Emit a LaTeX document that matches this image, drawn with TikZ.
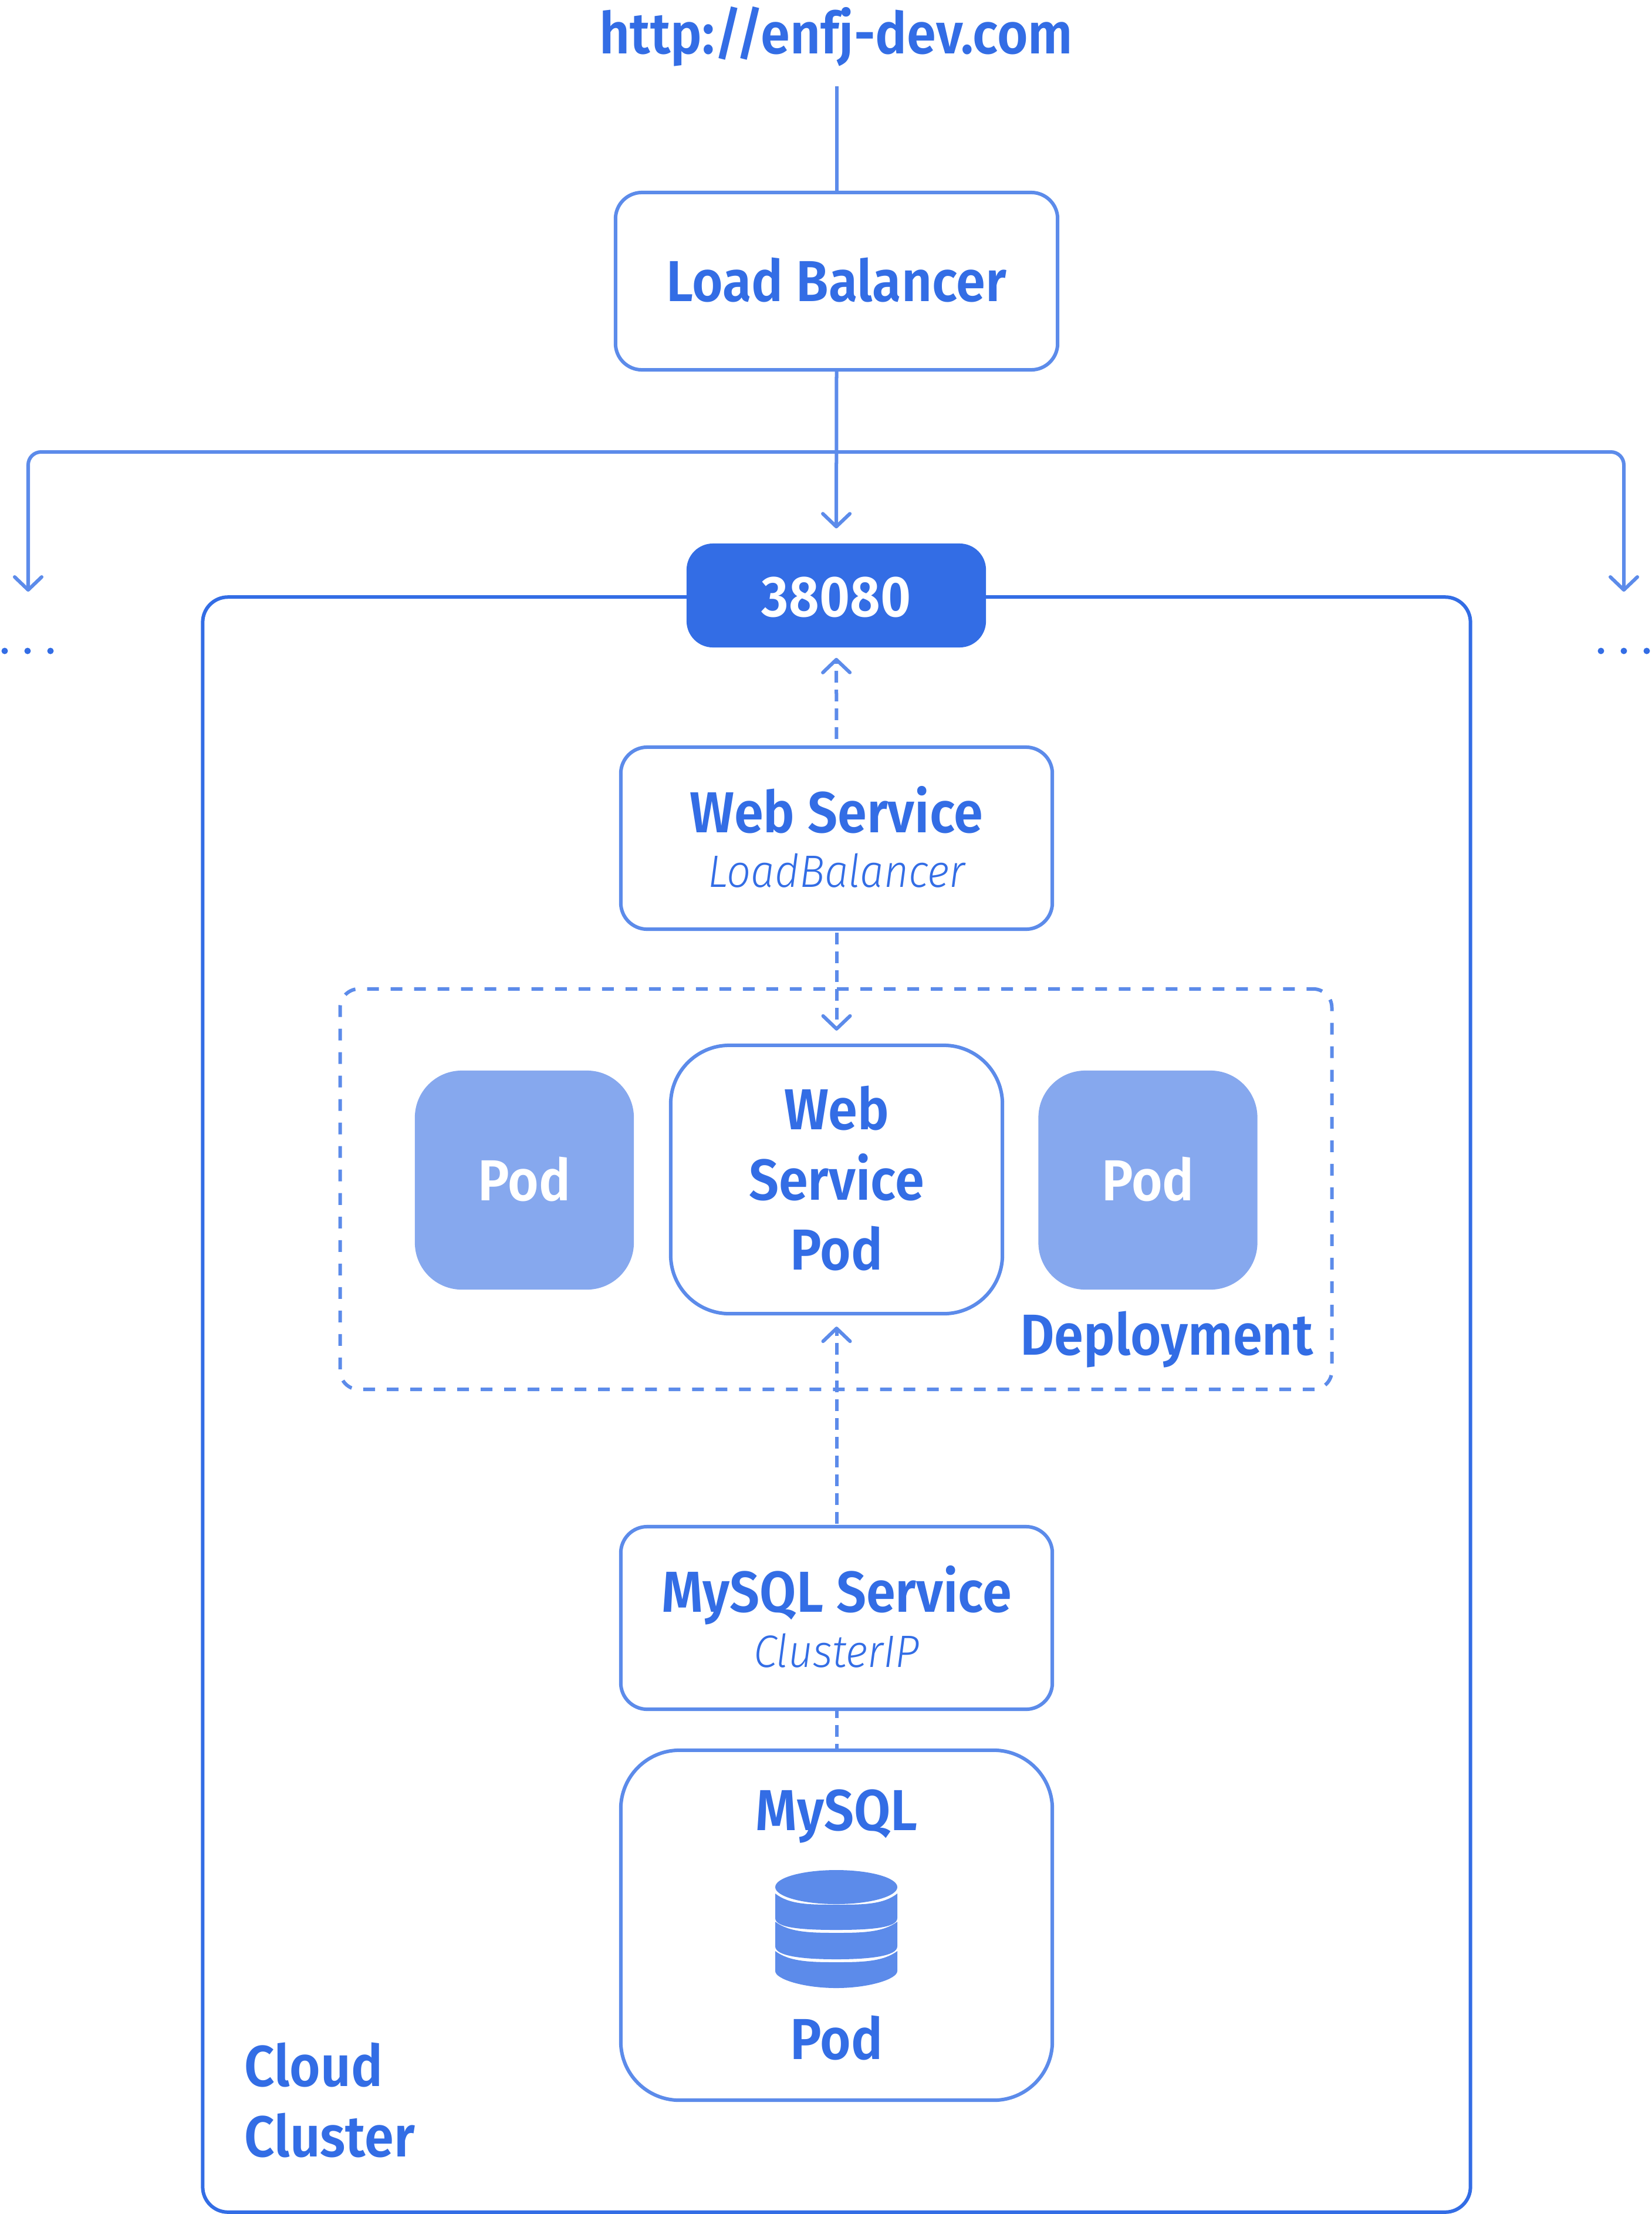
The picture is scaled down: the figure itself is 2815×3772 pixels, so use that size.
\documentclass[tikz,border=0pt]{standalone}
\usepackage{fontspec}
\usetikzlibrary{arrows.meta}
\setmainfont{Fira Sans}
\newfontfamily\medfont{Fira Sans SemiBold}[FakeStretch=0.916]
\newfontfamily\lightit{Fira Sans Light Italic}[FakeStretch=0.936]
\definecolor{dark}{HTML}{336DE5}
\definecolor{soft}{HTML}{5C8BEA}
\definecolor{pale}{HTML}{86A8EE}
\newcommand{\subt}{\lightit\fontsize{22}{26}\selectfont}
\tikzset{
  x=0.01cm,y=-0.01cm,
  lab/.style={text=dark,font=\medfont\fontsize{28}{34}\selectfont,inner sep=0pt,align=center},
  boxa/.style={draw=soft,line width=0.06cm,fill=white,rounded corners=0.45cm,inner sep=0pt,text=dark,align=center,font=\medfont\fontsize{28}{34}\selectfont,text depth=1.4pt},
  boxb/.style={boxa,rounded corners=1cm},
  podbox/.style={fill=pale,rounded corners=0.8cm,inner sep=0pt,text=white,font=\medfont\fontsize{28}{34}\selectfont,minimum width=3.73cm,minimum height=3.73cm,text depth=1.4pt},
  conn/.style={draw=soft,line width=0.06cm},
  arrowed/.style={-{Straight Barb[length=0.22cm,width=0.46cm,round]}},
  dashline/.style={dash pattern=on 0.2cm off 0.12cm},
  dotn/.style={circle,fill=dark,inner sep=0pt,minimum size=0.11cm},
}
\begin{document}
\begin{tikzpicture}
\useasboundingbox (0,0) rectangle (2815,3772);
% cluster
\node[draw=dark,line width=0.06cm,rounded corners=0.43cm,inner sep=0pt,minimum width=21.59cm,minimum height=27.5cm] (cluster) at (1425.5,2393) {};
% nodes
\node[lab] (url) at (1425,62) {http://enfj-dev.com};
\node[boxa,minimum width=7.53cm,minimum height=3.02cm] (lb) at (1425.5,479) {Load Balancer};
\node[fill=dark,rounded corners=0.45cm,text=white,inner sep=0pt,minimum width=5.1cm,minimum height=1.77cm,font=\medfont\fontsize{28}{34}\selectfont,text height=20.7pt,text depth=0pt] (port) at (1425,1014.5) {38080};
\node[boxa,minimum width=7.35cm,minimum height=3.1cm] (web) at (1425.5,1428) {Web Service\\[-7.4pt]{\subt LoadBalancer}};
\node[draw=soft,line width=0.06cm,dash pattern=on 0.2cm off 0.2cm,dash phase=0.09cm,rounded corners=0.32cm,inner sep=0pt,minimum width=16.89cm,minimum height=6.82cm] (deploy) at (1424.5,2026) {};
\node[podbox] (podl) at (893.5,2010.5) {Pod};
\node[podbox] (podr) at (1956,2010.5) {Pod};
\node[boxb,minimum width=5.65cm,minimum height=4.57cm] (webpod) at (1425.5,2009.5) {Web\\Service\\Pod};
\node[lab,anchor=base east] (deptext) at (2238,2308) {Deployment};
\node[boxa,minimum width=7.35cm,minimum height=3.11cm] (mysvc) at (1425.5,2756.5) {MySQL Service\\[-7.4pt]{\subt ClusterIP}};
\node[boxb,minimum width=7.35cm,minimum height=5.96cm] (mypod) at (1425.5,3280) {};
\node[lab,anchor=base] (mytext) at (1425.5,3118) {MySQL};
\node[lab,anchor=base] (mypodtext) at (1425.5,3508) {Pod};
\node[lab,anchor=base west,align=left] (cloud) at (416,3554) {Cloud};
\node[lab,anchor=base west,align=left] (clustertext) at (416,3674) {Cluster};
% database
\fill[soft] (1321,3215) arc[x radius=104,y radius=29,start angle=180,end angle=0] arc[x radius=104,y radius=29,start angle=0,end angle=-180] -- cycle;
\fill[soft] (1321,3226) .. controls (1345,3245) and (1380,3245) .. (1425,3245) .. controls (1470,3245) and (1505,3245) .. (1529,3226) -- (1529,3268) .. controls (1529,3285) and (1480,3288) .. (1425,3288) .. controls (1370,3288) and (1321,3285) .. (1321,3268) -- cycle;
\fill[soft] (1321,3274) .. controls (1345,3292) and (1380,3293) .. (1425,3293) .. controls (1470,3293) and (1505,3292) .. (1529,3274) -- (1529,3316) .. controls (1529,3333) and (1480,3338) .. (1425,3338) .. controls (1370,3338) and (1321,3333) .. (1321,3316) -- cycle;
\fill[soft] (1321,3324) .. controls (1345,3342) and (1380,3343) .. (1425,3343) .. controls (1470,3343) and (1505,3342) .. (1529,3324) -- (1529,3358) .. controls (1529,3372) and (1480,3387) .. (1425,3387) .. controls (1370,3387) and (1321,3372) .. (1321,3358) -- cycle;
% dots and free ends
\coordinate (branch) at (1425.5,770);
\coordinate (endl) at (48,1008);
\coordinate (endr) at (2767,1008);
\coordinate (urlfoot) at (1425.5,147);
\node[dotn] (dl1) at (8,1109) {};
\node[dotn] (dl2) at (47,1109) {};
\node[dotn] (dl3) at (86,1109) {};
\node[dotn] (dr1) at (2728,1109) {};
\node[dotn] (dr2) at (2767,1109) {};
\node[dotn] (dr3) at (2806,1109) {};
% connectors
\draw[conn] (urlfoot) -- (lb.north);
\draw[conn,arrowed,shorten >=0.25cm] (lb.south) -- (port.north);
\draw[conn,arrowed,rounded corners=0.22cm] (branch) -| (endl);
\draw[conn,arrowed,rounded corners=0.22cm] (branch) -| (endr);
\draw[conn,dashline,arrowed,shorten >=0.17cm,shorten <=0.11cm] (web.north) -- (port.south);
\draw[conn,dashline,arrowed,shorten >=0.22cm,shorten <=0.03cm] (web.south) -- (webpod.north);
\draw[conn,dashline,arrowed,shorten >=0.19cm,shorten <=0.02cm] (mysvc.north) -- (webpod.south);
\draw[conn,dashline,dash phase=0.08cm] (mysvc.south) -- (mypod.north);
\end{tikzpicture}
\end{document}
